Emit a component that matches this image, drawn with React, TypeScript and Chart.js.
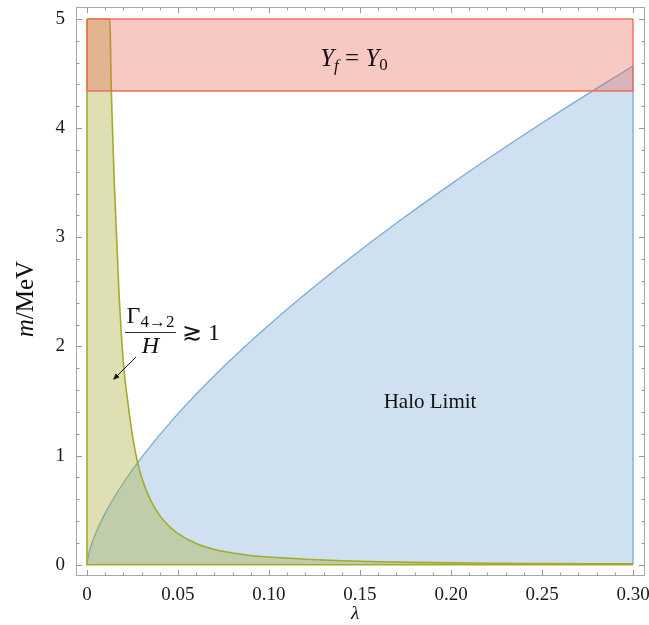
import React, { useEffect, useRef } from "react";
import { Chart, registerables } from "chart.js";
Chart.register(...registerables);

// Halo limit boundary (blue), m/MeV vs lambda
const haloLambda = [0, 0.001, 0.0025, 0.005, 0.01, 0.02, 0.03, 0.05, 0.075, 0.1, 0.125, 0.15, 0.175, 0.2, 0.225, 0.25, 0.275, 0.3];
const haloMass = [0, 0.102, 0.187, 0.298, 0.473, 0.751, 0.984, 1.384, 1.814, 2.197, 2.549, 2.879, 3.19, 3.487, 3.772, 4.047, 4.312, 4.57];

// Gamma_{4->2}/H >~ 1 boundary (olive)
const rateLambda = [0.0126, 0.0132, 0.014, 0.015, 0.0175, 0.02, 0.0225, 0.025, 0.0275, 0.03, 0.035, 0.04, 0.045, 0.05, 0.06, 0.07, 0.08, 0.09, 0.1, 0.12, 0.14, 0.16, 0.18, 0.2, 0.22, 0.25, 0.275, 0.3];
const rateMass = [5, 4.45, 4.0, 3.5, 2.52, 1.85, 1.48, 1.18, 0.96, 0.8, 0.59, 0.45, 0.355, 0.285, 0.195, 0.14, 0.108, 0.085, 0.07, 0.05, 0.036, 0.027, 0.021, 0.017, 0.014, 0.011, 0.009, 0.008];

// Y_f = Y_0 band
const bandLambda = [0, 0.3];
const bandLow = 4.34;
const bandHigh = 5;

// axes
const xMin = -0.00604;
const xMax = 0.30659;
const yMin = -0.1035;
const yMax = 5.11;
const xTickValues = [0, 0.05, 0.1, 0.15, 0.2, 0.25, 0.3];
const xTickLabels = ["0", "0.05", "0.10", "0.15", "0.20", "0.25", "0.30"];
const yTickValues = [0, 1, 2, 3, 4, 5];
const yTickLabels = ["0", "1", "2", "3", "4", "5"];
const xMinorStep = 0.01;
const yMinorStep = 0.2;

// annotation anchors (data coordinates)
const yfLabelPos = { x: 0.1467, y: 4.643 };
const haloLabelPos = { x: 0.1885, y: 1.482 };
const fracPos = { x: 0.0349, y: 2.132 };
const arrowFrom = { x: 0.0269, y: 1.903 };
const arrowTo = { x: 0.0143, y: 1.693 };

const SERIF = "'Liberation Serif', 'DejaVu Serif', serif";

const blueLine = "rgb(122,172,212)";
const blueFill = "rgba(110,165,210,0.33)";
const greenLine = "rgb(165,170,40)";
const greenFill = "rgba(160,165,40,0.35)";
const redLine = "rgb(240,115,95)";
const redFill = "rgba(235,90,70,0.33)";

type Seg = { t: string; font: string; dy?: number };

function drawSegs(ctx: CanvasRenderingContext2D, segs: Seg[], x: number, baseline: number, align: "left" | "center") {
  let total = 0;
  const widths = segs.map((s) => {
    ctx.font = s.font;
    const w = ctx.measureText(s.t).width;
    total += w;
    return w;
  });
  let cx = align === "center" ? x - total / 2 : x;
  ctx.textAlign = "left";
  ctx.textBaseline = "alphabetic";
  segs.forEach((s, i) => {
    ctx.font = s.font;
    ctx.fillText(s.t, cx, baseline + (s.dy || 0));
    cx += widths[i];
  });
  return total;
}

const framePlugin = {
  id: "frameTicks",
  afterDatasetsDraw(chart: any) {
    const ctx = chart.ctx as CanvasRenderingContext2D;
    const { left, right, top, bottom } = chart.chartArea;
    const xs = chart.scales.x;
    const ys = chart.scales.y;
    ctx.save();
    ctx.strokeStyle = "#a8a8a8";
    ctx.lineWidth = 1;
    ctx.strokeRect(Math.round(left) + 0.5, Math.round(top) + 0.5, Math.round(right - left) - 1, Math.round(bottom - top) - 1);
    ctx.strokeStyle = "#999";
    ctx.beginPath();
    const nx = Math.round(0.3 / xMinorStep);
    for (let i = 0; i <= nx; i++) {
      const v = i * xMinorStep;
      const major = i % 5 === 0;
      const len = major ? 6 : 3.5;
      const px = Math.round(xs.getPixelForValue(v)) + 0.5;
      ctx.moveTo(px, bottom);
      ctx.lineTo(px, bottom - len);
      ctx.moveTo(px, top);
      ctx.lineTo(px, top + len);
    }
    const ny = Math.round(5 / yMinorStep);
    for (let i = 0; i <= ny; i++) {
      const v = i * yMinorStep;
      const major = i % 5 === 0;
      const len = major ? 6 : 3.5;
      const py = Math.round(ys.getPixelForValue(v)) + 0.5;
      ctx.moveTo(left, py);
      ctx.lineTo(left + len, py);
      ctx.moveTo(right, py);
      ctx.lineTo(right - len, py);
    }
    ctx.stroke();
    ctx.restore();
  },
  afterDraw(chart: any) {
    const ctx = chart.ctx as CanvasRenderingContext2D;
    const xs = chart.scales.x;
    const ys = chart.scales.y;
    const { left, bottom } = chart.chartArea;
    ctx.save();
    ctx.fillStyle = "#111";

    // Y_f = Y_0
    drawSegs(
      ctx,
      [
        { t: "Y", font: `italic 25px ${SERIF}` },
        { t: "f", font: `italic 17px ${SERIF}`, dy: 5 },
        { t: " = ", font: `25px ${SERIF}` },
        { t: "Y", font: `italic 25px ${SERIF}` },
        { t: "0", font: `17px ${SERIF}`, dy: 4 },
      ],
      xs.getPixelForValue(yfLabelPos.x),
      ys.getPixelForValue(yfLabelPos.y) + 8,
      "center"
    );

    // Halo Limit
    ctx.font = `21px ${SERIF}`;
    ctx.textAlign = "center";
    ctx.textBaseline = "middle";
    ctx.fillText("Halo Limit", xs.getPixelForValue(haloLabelPos.x), ys.getPixelForValue(haloLabelPos.y));

    // fraction Gamma_{4->2}/H >~ 1
    const fx = xs.getPixelForValue(fracPos.x);
    const fy = ys.getPixelForValue(fracPos.y);
    ctx.font = `24px ${SERIF}`;
    const gw = ctx.measureText("Γ").width;
    ctx.font = `17px ${SERIF}`;
    const sw = ctx.measureText("4→2").width;
    const numW = gw + sw;
    const barW = numW + 3;
    const barL = fx - barW / 2;
    drawSegs(
      ctx,
      [
        { t: "Γ", font: `24px ${SERIF}` },
        { t: "4→2", font: `17px ${SERIF}`, dy: 4 },
      ],
      fx,
      fy - 9,
      "center"
    );
    ctx.strokeStyle = "#111";
    ctx.lineWidth = 0.9;
    ctx.beginPath();
    ctx.moveTo(barL, fy + 0.5);
    ctx.lineTo(barL + barW, fy + 0.5);
    ctx.stroke();
    drawSegs(ctx, [{ t: "H", font: `italic 24px ${SERIF}` }], fx, fy + 21, "center");
    drawSegs(ctx, [{ t: "≳ 1", font: `24px ${SERIF}` }], barL + barW + 6, fy + 8, "left");

    // arrow
    const ax0 = xs.getPixelForValue(arrowFrom.x);
    const ay0 = ys.getPixelForValue(arrowFrom.y);
    const ax1 = xs.getPixelForValue(arrowTo.x);
    const ay1 = ys.getPixelForValue(arrowTo.y);
    const ang = Math.atan2(ay1 - ay0, ax1 - ax0);
    ctx.strokeStyle = "#111";
    ctx.lineWidth = 1;
    ctx.beginPath();
    ctx.moveTo(ax0, ay0);
    ctx.lineTo(ax1 - 4 * Math.cos(ang), ay1 - 4 * Math.sin(ang));
    ctx.stroke();
    ctx.beginPath();
    ctx.moveTo(ax1, ay1);
    ctx.lineTo(ax1 - 7 * Math.cos(ang - 0.4), ay1 - 7 * Math.sin(ang - 0.4));
    ctx.lineTo(ax1 - 7 * Math.cos(ang + 0.4), ay1 - 7 * Math.sin(ang + 0.4));
    ctx.closePath();
    ctx.fillStyle = "#111";
    ctx.fill();

    // axis titles
    ctx.fillStyle = "#111";
    ctx.save();
    ctx.translate(left - 51, ys.getPixelForValue(2.434));
    ctx.rotate(-Math.PI / 2);
    drawSegs(
      ctx,
      [
        { t: "m", font: `italic 25px ${SERIF}` },
        { t: "/MeV", font: `25px ${SERIF}` },
      ],
      0,
      8,
      "center"
    );
    ctx.restore();
    drawSegs(ctx, [{ t: "λ", font: `italic 19px ${SERIF}` }], xs.getPixelForValue(0.1473), bottom + 43, "center");
    ctx.restore();
  },
};

export default function App() {
  const ref = useRef<HTMLCanvasElement>(null);
  useEffect(() => {
    if (!ref.current) return;
    const halo = haloLambda.map((x, i) => ({ x, y: haloMass[i] }));
    const rate = [{ x: 0, y: 5 }, ...rateLambda.map((x, i) => ({ x, y: rateMass[i] }))];
    const base = {
      showLine: true,
      pointRadius: 0,
      pointHoverRadius: 0,
    };
    const zeroPad = (s: any) => {
      s.paddingLeft = 0;
      s.paddingRight = 0;
      s.paddingTop = 0;
      s.paddingBottom = 0;
    };
    const chart = new Chart(ref.current, {
      type: "scatter",
      data: {
        datasets: [
          // red band (top)
          {
            ...base,
            data: bandLambda.map((x) => ({ x, y: bandHigh })),
            borderColor: redLine,
            borderWidth: 1.4,
            backgroundColor: redFill,
            fill: { value: bandLow },
            tension: 0,
          },
          {
            ...base,
            data: [
              { x: bandLambda[0], y: bandHigh },
              { x: bandLambda[0], y: bandLow },
              { x: bandLambda[1], y: bandLow },
              { x: bandLambda[1], y: bandHigh },
            ],
            borderColor: redLine,
            borderWidth: 1.4,
            fill: false,
            tension: 0,
          },
          // green region
          {
            ...base,
            data: rate,
            borderColor: greenLine,
            borderWidth: 1.6,
            backgroundColor: greenFill,
            fill: "origin",
            cubicInterpolationMode: "monotone",
          },
          {
            ...base,
            data: [
              { x: 0, y: 5 },
              { x: 0, y: 0 },
              { x: 0.3, y: 0 },
            ],
            borderColor: greenLine,
            borderWidth: 1.6,
            fill: false,
            tension: 0,
          },
          // blue region
          {
            ...base,
            data: halo,
            borderColor: blueLine,
            borderWidth: 1.3,
            backgroundColor: blueFill,
            fill: "origin",
            cubicInterpolationMode: "monotone",
          },
          {
            ...base,
            data: [
              { x: 0.3, y: haloMass[haloMass.length - 1] },
              { x: 0.3, y: 0 },
            ],
            borderColor: blueLine,
            borderWidth: 1.3,
            fill: false,
            tension: 0,
          },
        ],
      },
      options: {
        responsive: false,
        animation: false,
        events: [],
        layout: { padding: { left: 0, top: 7, right: 4, bottom: 0 } },
        plugins: { legend: { display: false }, tooltip: { enabled: false } },
        scales: {
          x: {
            type: "linear",
            min: xMin,
            max: xMax,
            border: { display: false },
            grid: { display: false, drawTicks: false },
            afterBuildTicks: (s: any) => {
              s.ticks = xTickValues.map((v) => ({ value: v }));
            },
            afterFit: (s: any) => {
              s.height = 49;
              zeroPad(s);
            },
            ticks: {
              autoSkip: false,
              maxRotation: 0,
              padding: 8,
              color: "#1a1a1a",
              font: { family: SERIF, size: 19 },
              callback: (_v: any, i: number) => xTickLabels[i],
            },
          },
          y: {
            type: "linear",
            min: yMin,
            max: yMax,
            border: { display: false },
            grid: { display: false, drawTicks: false },
            afterBuildTicks: (s: any) => {
              s.ticks = yTickValues.map((v) => ({ value: v }));
            },
            afterFit: (s: any) => {
              s.width = 76;
              zeroPad(s);
            },
            ticks: {
              autoSkip: false,
              padding: 11,
              color: "#1a1a1a",
              font: { family: SERIF, size: 19 },
              callback: (_v: any, i: number) => yTickLabels[i],
            },
          },
        },
      },
      plugins: [framePlugin],
    } as any);
    return () => chart.destroy();
  }, []);
  return (
    <div style={{ position: "fixed", left: 0, top: 0, width: 649, height: 625, background: "#fff" }}>
      <canvas ref={ref} width={649} height={625} style={{ display: "block" }} />
    </div>
  );
}
